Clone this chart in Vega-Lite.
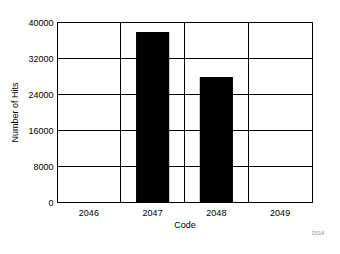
{
  "$schema": "https://vega.github.io/schema/vega-lite/v6.json",
  "autosize": "none",
  "width": 255,
  "height": 180,
  "padding": {"left": 57, "top": 22, "right": 28, "bottom": 52},
  "background": "white",
  "title": {"text": "D014", "orient": "bottom", "anchor": "end", "fontSize": 5, "fontWeight": "normal", "color": "#888888", "font": "Liberation Sans", "offset": 2, "dx": 12},
  "data": {"values": [
    {"code": "2046", "hits": 0},
    {"code": "2047", "hits": 37800},
    {"code": "2048", "hits": 27800},
    {"code": "2049", "hits": 0}
  ]},
  "mark": {"type": "bar", "color": "black"},
  "encoding": {
    "x": {"field": "code", "type": "ordinal", "title": "Code",
      "scale": {"paddingInner": 0.48, "paddingOuter": 0.24},
      "axis": {"labelAngle": 0, "bandPosition": -0.4615, "grid": true, "gridColor": "black", "gridOpacity": 1, "gridWidth": 1, "ticks": false, "domainColor": "black", "labelFont": "Liberation Sans", "labelFontSize": 9, "labelColor": "black", "titleFont": "Liberation Sans", "titleFontSize": 9, "titleFontWeight": "normal", "titleColor": "black", "labelPadding": 6, "titlePadding": 3}},
    "y": {"field": "hits", "type": "quantitative", "title": "Number of Hits",
      "scale": {"domain": [0, 40000]},
      "axis": {"values": [0, 8000, 16000, 24000, 32000, 40000], "format": "d", "grid": true, "gridColor": "black", "gridOpacity": 1, "gridWidth": 1, "ticks": false, "domainColor": "black", "labelFont": "Liberation Sans", "labelFontSize": 9, "labelColor": "black", "labelPadding": 4, "titleFont": "Liberation Sans", "titleFontSize": 9, "titleFontWeight": "normal", "titleColor": "black", "titlePadding": 8}}
  },
  "config": {"view": {"stroke": "black", "strokeWidth": 1}, "axis": {"domainWidth": 1}}
}
